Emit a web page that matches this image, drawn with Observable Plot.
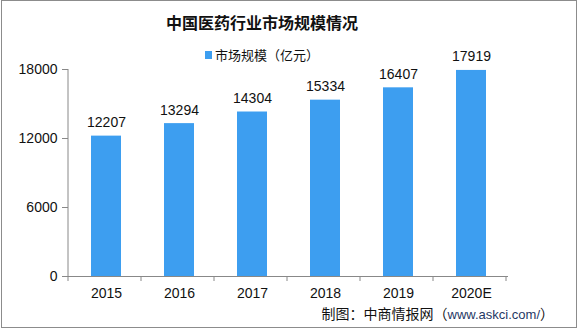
<!DOCTYPE html>
<html><head><meta charset="utf-8">
<script src="https://cdn.jsdelivr.net/npm/d3@7"></script>
<script src="https://cdn.jsdelivr.net/npm/@observablehq/plot@0.6"></script>
<style>
html,body{margin:0;padding:0;background:#fff;}
#wrap{position:relative;width:578px;height:328px;overflow:hidden;background:#fff;}
#border{position:absolute;left:1px;top:0;width:574px;height:326px;border:1px solid #8c8c8c;box-sizing:content-box;pointer-events:none;}
#title{position:absolute;left:0;width:524px;top:11px;text-align:center;font:bold 16px "Noto Sans CJK SC";color:#111;line-height:22px;}
#legend{position:absolute;left:205px;top:46px;font:13px "Noto Sans CJK SC";color:#111;line-height:18px;display:flex;align-items:center;}
#legend span.sw{display:inline-block;width:7px;height:8px;background:#3d9ef0;margin-right:3px;}
#caption{position:absolute;right:24px;top:304px;font:14px "Noto Sans CJK SC";color:#111;line-height:18px;white-space:nowrap;}
#caption .url{font-family:"Liberation Sans";color:#1f3864;font-size:13px;}
#chart{position:absolute;left:0;top:0;}
svg g[aria-label="y-axis tick"]{stroke:#888;}
</style>
</head><body>
<div id="wrap">
  <div id="chart"></div>
  <div id="title">中国医药行业市场规模情况</div>
  <div id="legend"><span class="sw"></span>市场规模（亿元）</div>
  <div id="caption">制图：中商情报网（<span class="url">www.askci.com/</span>）</div>
  <div id="border"></div>
</div>
<script>
const years = ["2015", "2016", "2017", "2018", "2019", "2020E"];
const values = [12207, 13294, 14304, 15334, 16407, 17919];
const yTicks = [0, 6000, 12000, 18000];

const data = years.map((y, i) => ({year: y, value: values[i]}));

const plot = Plot.plot({
  width: 578,
  height: 328,
  marginLeft: 68,
  marginRight: 70,
  marginTop: 69,
  marginBottom: 52,
  style: {fontFamily: "Liberation Sans", fontSize: "14px", color: "#111", background: "transparent"},
  x: {domain: years, paddingInner: 0.59, paddingOuter: 0.295, label: null},
  y: {domain: [0, 18000], label: null},
  marks: [
    Plot.barY(data, {x: "year", y: "value", fill: "#3d9ef0"}),
    Plot.text(data, {x: "year", y: "value", text: d => String(d.value), dy: -9, lineAnchor: "bottom", fill: "#111", fontSize: 14}),
    Plot.axisY({ticks: yTicks, tickSize: 6, tickPadding: 5, tickFormat: d3.format("d"), label: null, fontSize: 14}),
    Plot.axisX({tickSize: 0, tickPadding: 12, label: null, fontSize: 14}),
    Plot.ruleY([0], {stroke: "#888"})
  ]
});
document.getElementById("chart").appendChild(plot);

// axis line at left and category boundary ticks, from the x scale
const xs = plot.scale("x");
const ys = plot.scale("y");
const svg = d3.select(plot);
const x0 = xs.range[0];
const step = xs.step;
const yb = ys.apply(0);
svg.append("line").attr("x1", x0).attr("x2", x0).attr("y1", ys.apply(18000)).attr("y2", yb).attr("stroke", "#888");
years.concat([null]).forEach((y, i) => {
  const xx = x0 + i * step;
  svg.append("line").attr("x1", xx).attr("x2", xx).attr("y1", yb).attr("y2", yb + 5).attr("stroke", "#888");
});
</script>
</body></html>
